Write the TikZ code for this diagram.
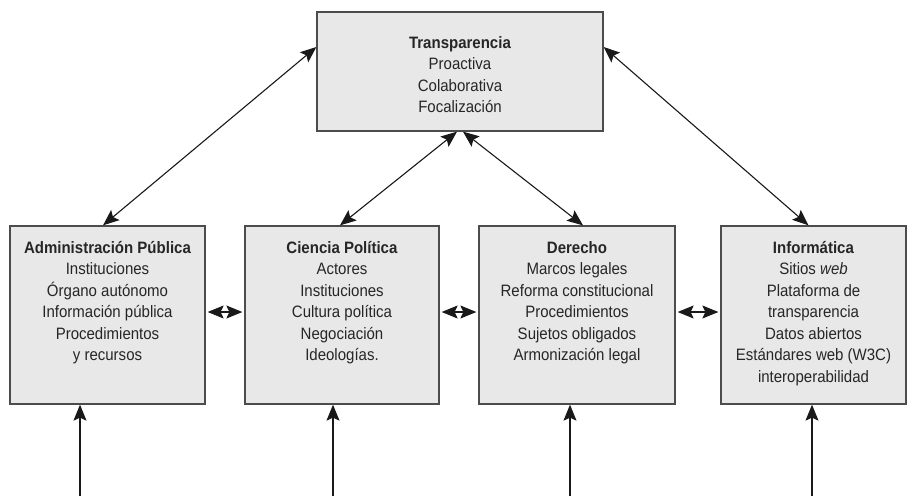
\documentclass[tikz,border=0pt]{standalone}
\usepackage{fontspec}
\setmainfont{Liberation Sans}[FakeStretch=0.91]
\usetikzlibrary{arrows.meta,positioning}

\tikzset{
  area/.style={draw=black!70, fill=black!9, line width=1.3pt, minimum width=195pt, minimum height=178pt, inner sep=0pt},
  lista/.style={anchor=north, align=center, inner sep=0pt, text=black!85, font=\fontsize{16.5}{21.5}\selectfont},
  rel/.style={{Stealth[length=16pt,width=13pt,inset=3pt]}-{Stealth[length=16pt,width=13pt,inset=3pt]}, line width=1.1pt, black!90},
  sube/.style={-{Stealth[length=16pt,width=13pt,inset=3pt]}, line width=1.1pt, black!90},
}

\begin{document}
\begin{tikzpicture}[x=1pt,y=-1pt]
\useasboundingbox (0,0) rectangle (907,496);

% cajas
\node[area, minimum width=286pt, minimum height=119pt] (trans) at (460,71.5) {};
\node[area] (admin) at (107.5,315) {};
\node[area, minimum width=194pt] (cpol) at (342,315) {};
\node[area, minimum width=196pt] (der) at (577,315) {};
\node[area, minimum width=185pt] (info) at (813.5,315) {};

% textos
\node[lista] (transtxt) at ([yshift=-21.5pt]trans.north) {\strut\textbf{Transparencia}\\Proactiva\\Colaborativa\\Focalización};
\node[lista] (admintxt) at ([yshift=-12.5pt]admin.north) {\strut\textbf{Administración Pública}\\Instituciones\\Órgano autónomo\\Información pública\\Procedimientos\\y recursos};
\node[lista] (cpoltxt) at ([yshift=-12.5pt]cpol.north) {\strut\textbf{Ciencia Política}\\Actores\\Instituciones\\Cultura política\\Negociación\\Ideologías.};
\node[lista] (dertxt) at ([yshift=-12.5pt]der.north) {\strut\textbf{Derecho}\\Marcos legales\\Reforma constitucional\\Procedimientos\\Sujetos obligados\\Armonización legal};
\node[lista] (infotxt) at ([yshift=-12.5pt]info.north) {\strut\textbf{Informática}\\Sitios \textit{web}\\Plataforma de\\transparencia\\Datos abiertos\\Estándares web (W3C)\\interoperabilidad};

% relaciones con transparencia
\draw[rel] ([yshift=24.5pt]trans.west) -- ([xshift=-4.5pt]admin.north);
\draw[rel] ([xshift=-3pt]trans.south) -- ([xshift=-2pt]cpol.north);
\draw[rel] ([xshift=3pt]trans.south) -- ([xshift=6pt]der.north);
\draw[rel] ([yshift=24.5pt]trans.east) -- ([xshift=-5pt]info.north);

% relaciones entre disciplinas
\draw[rel, shorten <=2pt, shorten >=2pt] ([yshift=3pt]admin.east) -- ([yshift=3pt]cpol.west);
\draw[rel, shorten <=2pt, shorten >=2pt] ([yshift=3pt]cpol.east) -- ([yshift=3pt]der.west);
\draw[rel, shorten <=2pt, shorten >=2pt] ([yshift=3pt]der.east) -- ([yshift=3pt]info.west);

% entradas inferiores
\coordinate (b1) at (80,496);
\coordinate (b2) at (333,496);
\coordinate (b3) at (570,496);
\coordinate (b4) at (812,496);
\draw[sube] (b1) -- (b1 |- admin.south);
\draw[sube] (b2) -- (b2 |- cpol.south);
\draw[sube] (b3) -- (b3 |- der.south);
\draw[sube] (b4) -- (b4 |- info.south);
\end{tikzpicture}
\end{document}
